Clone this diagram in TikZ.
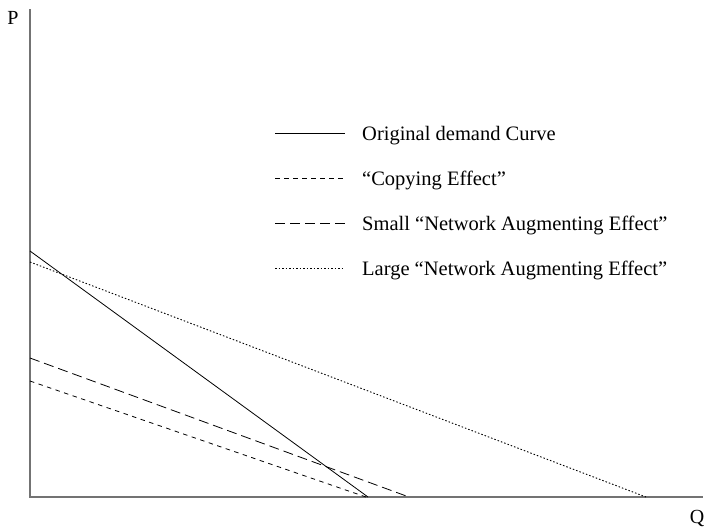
\documentclass[tikz,border=0pt]{standalone}
\usepackage{fontspec}
\setmainfont{Liberation Serif}

\tikzset{
  axisline/.style={draw=black!55, line width=1.2pt},
  demandline/.style={line width=0.8pt},
  copyline/.style={line width=0.8pt, dash pattern=on 4.5pt off 4.5pt},
  smallnet/.style={line width=0.8pt, dash pattern=on 10pt off 5pt},
  largenet/.style={line width=0.9pt, dash pattern=on 1.5pt off 2pt},
  legendtext/.style={anchor=west, inner sep=0pt, font=\fontsize{20.5}{24}\selectfont}
}

\begin{document}
\begin{tikzpicture}[x=1pt,y=1pt,yscale=-1]
\useasboundingbox (0,0) rectangle (706,531);

%Axes
\coordinate (origin) at (30,497);
\coordinate (ptop) at (30,9);
\coordinate (qend) at (703,497);
\draw [axisline] (ptop) -- (origin) -- (qend) ;

% Text Node
\node [inner sep=0pt, font=\fontsize{20}{24}\selectfont] (plabel) at (13,18) {P};
% Text Node
\node [inner sep=0pt, font=\fontsize{20}{24}\selectfont] (qlabel) at (697,518) {Q};

%Straight Lines: demand curves
\coordinate (d0a) at (30,251);
\coordinate (d0b) at (368,497);
\draw [demandline] (d0a) -- (d0b) ;

\coordinate (cpa) at (30,381);
\coordinate (cpb) at (366,497);
\draw [copyline] (cpa) -- (cpb) ;

\coordinate (sna) at (30,358);
\coordinate (snb) at (409,497);
\draw [smallnet] (sna) -- (snb) ;

\coordinate (lna) at (30,262);
\coordinate (lnb) at (646,497);
\draw [largenet] (lna) -- (lnb) ;

%Legend
\coordinate (k1) at (275,133);
\coordinate (k2) at (275,178);
\coordinate (k3) at (275,223);
\coordinate (k4) at (275,268);
\draw [demandline] (k1) -- ++(70,0) coordinate (k1e) ;
\draw [copyline] (k2) -- ++(70,0) coordinate (k2e) ;
\draw [smallnet] (k3) -- ++(70,0) coordinate (k3e) ;
\draw [largenet] (k4) -- ++(70,0) coordinate (k4e) ;

% Text Node
\node [legendtext] (t1) at ([xshift=17pt,yshift=2.5pt]k1e) {Original demand Curve};
% Text Node
\node [legendtext] (t2) at ([xshift=17pt,yshift=2.5pt]k2e) {``Copying Effect''};
% Text Node
\node [legendtext] (t3) at ([xshift=17pt,yshift=2.5pt]k3e) {Small ``Network Augmenting Effect''};
% Text Node
\node [legendtext] (t4) at ([xshift=17pt,yshift=2.5pt]k4e) {Large ``Network Augmenting Effect''};

\end{tikzpicture}
\end{document}
